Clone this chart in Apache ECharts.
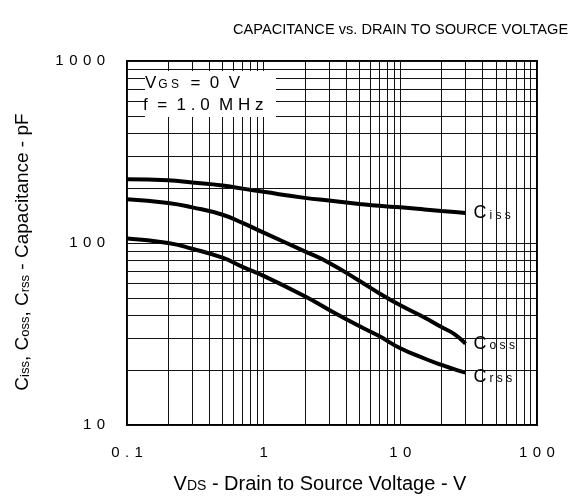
<!DOCTYPE html>
<html>
<head>
<meta charset="utf-8">
<script src="https://cdn.jsdelivr.net/npm/echarts@6/dist/echarts.min.js"></script>
<style>
  html, body { margin: 0; padding: 0; background: #fff; }
  #chart { width: 583px; height: 502px; }
</style>
</head>
<body>
<div id="chart"></div>
<script>
// drain-source voltage (V) where the curves were read
const vds = [0.1, 0.2, 0.3, 0.5, 0.7, 1, 2, 3, 5, 7, 10, 15, 20, 25, 30];
// capacitances in pF
const ciss = [224, 221, 215, 207, 199, 191, 177, 171, 164, 160, 157, 153, 150, 148, 146];
const coss = [174, 166, 157, 143, 129, 114, 90, 78, 62, 53, 45.5, 39, 34.5, 31.5, 28];
const crss = [106, 100, 93, 83, 74, 66, 51, 43, 35, 30.8, 26.4, 23.2, 21.4, 20.2, 19.4];

// minor log grid lines
const xMinor = [0.2, 0.3, 0.4, 0.5, 0.6, 0.7, 0.8, 0.9, 2, 3, 4, 5, 6, 7, 8, 9, 20, 30, 40, 50, 60, 70, 80, 90];
const yMinor = [20, 30, 40, 50, 60, 70, 80, 90, 200, 300, 400, 500, 600, 700, 800, 900];

const FONT = '"Liberation Sans", Arial, sans-serif';
// the datasheet prints numbers letter-spaced
const spaced = v => String(v).split('').join(' \u200A');

const pairs = ys => vds.map((x, i) => [x, ys[i]]);

const gridLine = { color: '#111', width: 1, type: 'solid' };

const curve = (name, ys, sub, offY) => ({
  name,
  type: 'line',
  data: pairs(ys),
  smooth: true,
  symbol: 'none',
  z: 3,
  lineStyle: { color: '#000', width: 4 },
  endLabel: {
    show: true,
    distance: 6,
    offset: [0, offY],
    formatter: `{c|C}{s|${sub}}`,
    backgroundColor: '#fff',
    padding: [3, 4, 3, 2],
    rich: {
      c: { fontFamily: FONT, fontSize: 18, color: '#000' },
      s: { fontFamily: FONT, fontSize: 12, color: '#000', padding: [5, 0, 0, 3] },
    },
  },
});

const chart = echarts.init(document.getElementById('chart'));
chart.setOption({
  animation: false,
  title: {
    text: 'CAPACITANCE vs. DRAIN TO SOURCE VOLTAGE',
    left: 228,
    top: 17,
    textStyle: { fontFamily: FONT, fontSize: 14.6, fontWeight: 'normal', color: '#000' },
  },
  grid: {
    left: 127,
    right: 46,
    top: 61,
    bottom: 77,
    show: true,
    borderColor: '#000',
    borderWidth: 2,
  },
  xAxis: {
    type: 'log',
    logBase: 10,
    min: 0.1,
    max: 100,
    axisLine: { show: false },
    axisTick: { show: false },
    splitLine: { show: true, lineStyle: gridLine },
    axisLabel: {
      margin: 20,
      fontFamily: FONT,
      fontSize: 15,
      color: '#000',
      formatter: v => spaced(+v.toPrecision(3)),
    },
    name: 'V{s|DS} - Drain to Source Voltage - V',
    nameLocation: 'middle',
    nameGap: 49,
    nameTextStyle: {
      fontFamily: FONT,
      fontSize: 20,
      color: '#000',
      padding: [0, 24, 0, 0],
      rich: { s: { fontFamily: FONT, fontSize: 14, color: '#000', padding: [5, 0, 0, 0] } },
    },
  },
  yAxis: {
    type: 'log',
    logBase: 10,
    min: 10,
    max: 1000,
    axisLine: { show: false },
    axisTick: { show: false },
    splitLine: { show: true, lineStyle: gridLine },
    axisLabel: {
      margin: 22,
      fontFamily: FONT,
      fontSize: 15,
      color: '#000',
      formatter: v => spaced(+v.toPrecision(3)),
    },
    name: 'C{s|iss}, C{s|oss}, C{s|rss} - Capacitance - pF',
    nameLocation: 'middle',
    nameRotate: 90,
    nameGap: 95,
    nameTextStyle: {
      fontFamily: FONT,
      fontSize: 19,
      color: '#000',
      padding: [0, 18, 0, 0],
      rich: { s: { fontFamily: FONT, fontSize: 13, color: '#000', padding: [5, 0, 0, 0] } },
    },
  },
  graphic: [
    {
      type: 'rect',
      shape: { x: 145, y: 71, width: 131, height: 46 },
      z: 9,
      style: { fill: '#fff' },
    },
    {
      type: 'text',
      left: 145,
      top: 75,
      z: 10,
      style: {
        text: 'V{s|G S}  =  0  V',
        fontFamily: FONT,
        fontSize: 17,
        fill: '#000',
        rich: { s: { fontFamily: FONT, fontSize: 12, fill: '#000', padding: [3, 2, 0, 2] } },
      },
    },
    {
      type: 'text',
      left: 143,
      top: 97,
      z: 10,
      style: {
        text: 'f  =  1 . 0  M H z',
        fontFamily: FONT,
        fontSize: 17,
        fill: '#000',
      },
    },
  ],
  series: [
    {
      name: 'grid',
      type: 'line',
      data: [],
      silent: true,
      z: 1,
      markLine: {
        silent: true,
        symbol: 'none',
        label: { show: false },
        lineStyle: gridLine,
        data: [
          ...xMinor.map(v => ({ xAxis: v })),
          ...yMinor.map(v => ({ yAxis: v })),
        ],
      },
    },
    curve('Ciss', ciss, 'i s s', 0),
    curve('Coss', coss, 'o s s', 0),
    curve('Crss', crss, 'r s s', 4),
  ],
});
</script>
</body>
</html>
